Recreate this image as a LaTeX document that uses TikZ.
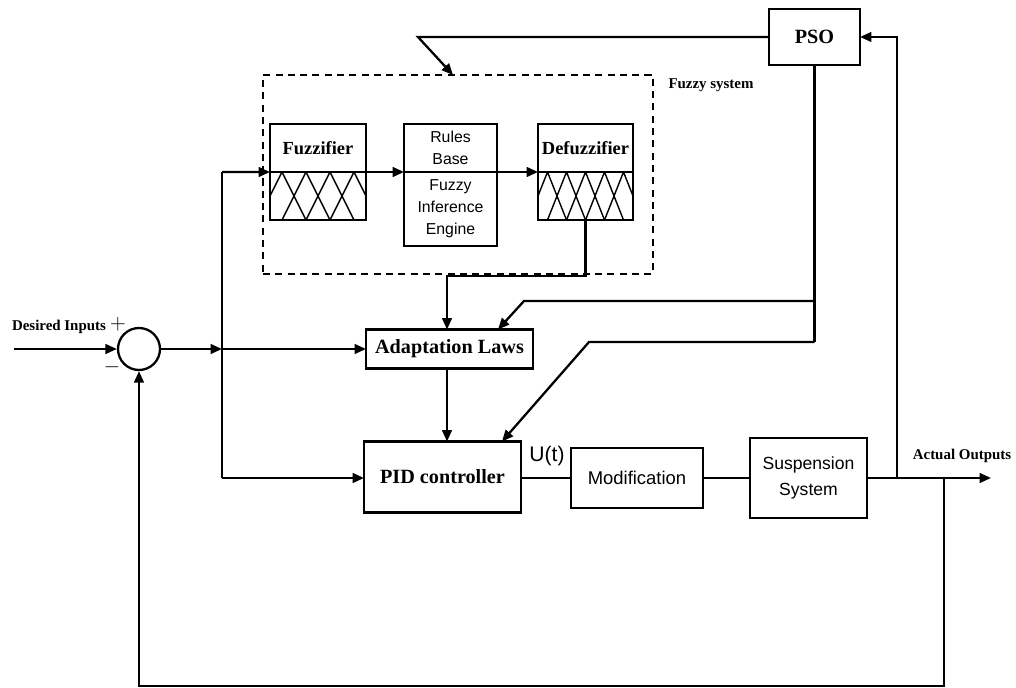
\documentclass[tikz,border=0pt]{standalone}
\usepackage{fontspec}
\setmainfont{Liberation Serif}
\setsansfont{Liberation Sans}
\usetikzlibrary{arrows.meta,positioning}

\begin{document}
\begin{tikzpicture}[
    x=0.02cm, y=-0.02cm,
    line width=1.3pt,
    >={Triangle[length=6.5pt,width=5.5pt]},
    block node/.style={draw,rectangle,inner sep=0pt,outer sep=0pt,align=center,font=\fontsize{11.5}{13}\selectfont\bfseries},
    half box/.style={draw,rectangle,inner sep=0pt,outer sep=0pt,align=center,minimum height=0.96cm},
    sans box/.style={block node,font=\sffamily\fontsize{10}{15}\selectfont},
    sum node/.style={draw,circle,minimum size=0.84cm,inner sep=0pt},
    fuzzy box/.style={draw,dash pattern=on 4pt off 3pt,line width=1.1pt,inner sep=0pt},
    small label/.style={inner sep=1pt,font=\fontsize{8.5}{10}\selectfont\bfseries},
    mf line/.style={line width=0.8pt}
  ]
    \useasboundingbox (0,0) rectangle (1016,688);

    % Summing junction and input
    \node[sum node] (sum) at (139,349) {};
    \node[small label] (inlbl) at (59,327) {Desired Inputs};
    \node[font=\fontsize{12}{12}\selectfont] (plus) at (118,324) {$+$};
    \node[font=\fontsize{12}{12}\selectfont] (minus) at (112,367) {$-$};

    % Fuzzy system
    \node[fuzzy box, minimum width=7.8cm, minimum height=3.98cm] (fuzzysys) at (458,174.5) {};
    \node[small label] (fuzzylbl) at (711,85) {Fuzzy system};

    \node[half box, minimum width=1.92cm, font=\fontsize{10.5}{12}\selectfont\bfseries] (fuzztop) at (318,148) {Fuzzifier};
    \node[half box, minimum width=1.92cm, below=0pt of fuzztop] (fuzzbot) {};

    \node[half box, minimum width=1.86cm, font=\sffamily\fontsize{9}{12.5}\selectfont] (rulestop) at (450.5,148) {Rules\\Base};
    \node[half box, minimum width=1.86cm, minimum height=1.48cm, below=0pt of rulestop,
          font=\sffamily\fontsize{9}{12.5}\selectfont] (rulesbot) {Fuzzy\\Inference\\Engine};

    \node[half box, minimum width=1.9cm, font=\fontsize{10.5}{12}\selectfont\bfseries] (defuztop) at (585.5,148) {Defuzzifier};
    \node[half box, minimum width=1.9cm, below=0pt of defuztop] (defuzbot) {};

    % membership functions
    \begin{scope}
      \clip (fuzzbot.south west) rectangle (fuzzbot.north east);
      \foreach \c in {282,306,330,354}
        \draw[mf line] (\c-24,220) -- (\c,172) -- (\c+24,220);
    \end{scope}
    \begin{scope}
      \clip (defuzbot.south west) rectangle (defuzbot.north east);
      \foreach \c in {547.5,566.5,585.5,604.5,623.5}
        \draw[mf line] (\c-19,220) -- (\c,172) -- (\c+19,220);
    \end{scope}

    % Controller blocks
    \node[block node, minimum width=3.34cm, minimum height=0.78cm] (adapt) at (449.5,349) {Adaptation Laws};
    \node[block node, minimum width=3.14cm, minimum height=1.42cm] (pid) at (442.5,477) {PID controller};
    \node[sans box, minimum width=2.64cm, minimum height=1.2cm, font=\sffamily\fontsize{10.5}{13}\selectfont] (modif) at (637,478) {Modification};
    \node[sans box, minimum width=2.34cm, minimum height=1.6cm] (susp) at (808.5,478) {Suspension\\System};
    \node[block node, minimum width=1.82cm, minimum height=1.12cm] (pso) at (814.5,37) {PSO};

    \node[inner sep=1pt, font=\sffamily\fontsize{12}{12}\selectfont] (ulbl) at (547,456) {U(t)};
    \node[small label] (outlbl) at (962,456) {Actual Outputs};

    % Forward path
    \coordinate (inp) at (14,349);
    \coordinate (jmid) at (222,349);
    \coordinate (jtop) at (222,172);
    \coordinate (jbot) at (222,478);
    \draw[->] (inp) -- (sum);
    \draw[->] (sum) -- (jmid);
    \draw[->] (jmid) -- (adapt.west);
    \draw (jtop) -- (jbot);
    \draw[->] (jtop) -- (fuzztop.south west);
    \draw[->] (jbot) -- (pid.west |- jbot);
    \draw[->] (fuzztop.south east) -- (rulestop.south west);
    \draw[->] (rulestop.south east) -- (defuztop.south west);

    \coordinate (lawsin) at (447,276);
    \draw[->] (defuzbot.south) |- (lawsin) -- (adapt.north -| lawsin);
    \draw[->] (adapt.south -| lawsin) -- (pid.north -| lawsin);

    \draw (pid.east |- modif) -- (modif);
    \draw (modif) -- (susp);

    % Outputs and feedback
    \coordinate (outj) at (897,478);
    \coordinate (fbj) at (944,478);
    \coordinate (outp) at (991,478);
    \coordinate (fbbot) at (944,686);
    \draw[->] (susp.east) -- (outp);
    \draw[->] (outj) |- (pso.east);
    \draw[->] (fbj) -- (fbbot) -| (sum.south);

    % PSO tuning lines
    \coordinate (psobend) at (418,37);
    \coordinate (psotip) at (453,75);
    \draw[->] (pso.west) -- (psobend) -- (psotip);

    \coordinate (psoa) at (814.5,301);
    \coordinate (psob) at (814.5,342);
    \coordinate (lawbend) at (524,301);
    \coordinate (lawtip) at (498,329.5);
    \coordinate (pidbend) at (589,342);
    \coordinate (pidtip) at (502,441.5);
    \draw (pso.south) -- (psob);
    \draw[->] (psoa) -- (lawbend) -- (lawtip);
    \draw[->] (psob) -- (pidbend) -- (pidtip);

  \end{tikzpicture}
\end{document}
